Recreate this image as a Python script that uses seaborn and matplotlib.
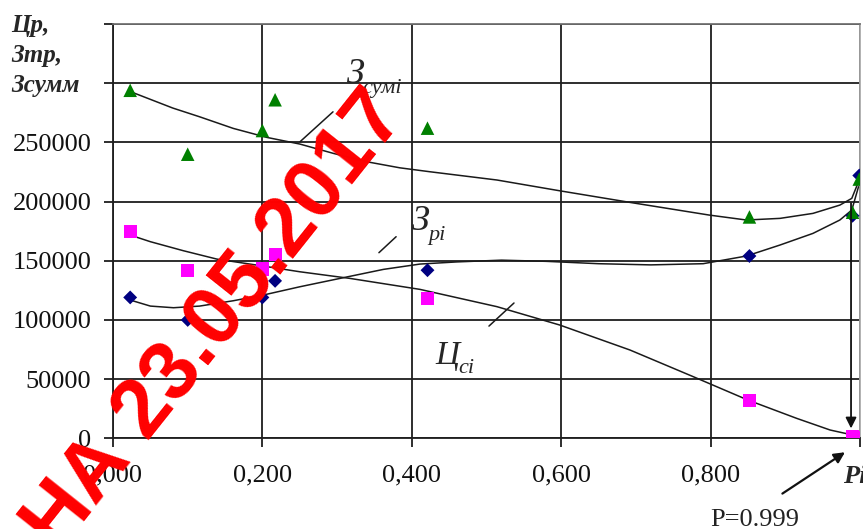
import numpy as np
import pandas as pd
import matplotlib
matplotlib.use("Agg")
import matplotlib.pyplot as plt
import seaborn as sns

# probability of no-failure P_i and the three cost series (points)
p_vals = [0.023, 0.100, 0.200, 0.217, 0.421, 0.852, 0.990, 0.999]
z_sum  = [294000, 240000, 260000, 286000, 262000, 187000, 191000, 219000]
z_r    = [119000, 100000, 119000, 133000, 142000, 154000, 188000, 222000]
c_s    = [175000, 142000, 143000, 155000, 118000, 32000, 1500, 500]

# trend curves
trend_p_sum = [0.024, 0.080, 0.116, 0.161, 0.206, 0.250, 0.295, 0.340, 0.384, 0.424, 0.514,
               0.598, 0.692, 0.798, 0.848, 0.893, 0.937, 0.973, 0.989, 0.998]
trend_sum   = [292700, 279000, 271600, 261800, 254200, 248600, 240700, 233600, 228500, 225200,
               218200, 209100, 199300, 188600, 184400, 185800, 190000, 197000, 202700, 216700]
trend_p_r = [0.023, 0.050, 0.081, 0.116, 0.161, 0.201, 0.250, 0.304, 0.362, 0.411, 0.460,
             0.520, 0.580, 0.650, 0.720, 0.790, 0.848, 0.893, 0.937, 0.973, 0.989, 0.998]
trend_r   = [116800, 111700, 110300, 111700, 116200, 121000, 128000, 135100, 142700, 147200,
             149000, 150500, 149500, 147500, 146500, 147500, 154000, 163300, 173100, 184400,
             192800, 212500]
trend_p_c = [0.023, 0.050, 0.094, 0.139, 0.201, 0.250, 0.317, 0.411, 0.514, 0.598, 0.692,
             0.777, 0.850, 0.915, 0.960, 1.000]
trend_c   = [171700, 166100, 158500, 151400, 145500, 140700, 135100, 125800, 111200, 95700,
             74600, 52000, 32300, 16900, 7000, 1400]

x_ticks = [0.0, 0.2, 0.4, 0.6, 0.8, 1.0]
x_ticklabels = ["0,000", "0,200", "0,400", "0,600", "0,800", ""]
y_ticks = [0, 50000, 100000, 150000, 200000, 250000, 300000, 350000]
y_ticklabels = ["0", "50000", "100000", "150000", "200000", "250000", "", ""]

df = pd.DataFrame({"P": p_vals, "z_sum": z_sum, "z_r": z_r, "c_s": c_s})

sns.set_theme(style="white")
plt.rcParams["font.family"] = ["Liberation Serif", "DejaVu Serif"]

W, H = 863, 529
fig = plt.figure(figsize=(W / 100, H / 100), dpi=100)
ax = fig.add_axes([113 / W, (H - 438.3) / H, (860 - 113) / W, (438.3 - 24) / H])

line_kws = dict(color="#1a1a1a", lw=1.1, zorder=3)
sns.lineplot(x=trend_p_sum, y=trend_sum, ax=ax, sort=False, estimator=None, **line_kws)
sns.lineplot(x=trend_p_r, y=trend_r, ax=ax, sort=False, estimator=None, **line_kws)
sns.lineplot(x=trend_p_c, y=trend_c, ax=ax, sort=False, estimator=None, **line_kws)

sns.scatterplot(data=df, x="P", y="z_r", marker="D", s=50, color="#000080", edgecolor="none", ax=ax, zorder=4)
sns.scatterplot(data=df, x="P", y="c_s", marker="s", s=90, color="#FF00FF", edgecolor="none", ax=ax, zorder=4)
sns.scatterplot(data=df, x="P", y="z_sum", marker="^", s=95, color="#008000", edgecolor="none", ax=ax, zorder=5)

ax.set_xlim(0, 1.0)
ax.set_ylim(0, 350000)
ax.set_xticks(x_ticks)
ax.set_xticklabels(x_ticklabels)
ax.set_yticks(y_ticks)
ax.set_yticklabels(y_ticklabels)
ax.set_xlabel("")
ax.set_ylabel("")
ax.grid(True, color="#1e1e1e", lw=1.3)
ax.set_axisbelow(True)
ax.tick_params(axis="both", which="major", direction="out", length=6.5, width=1.3,
               color="#1e1e1e", labelsize=19, labelcolor="#111111", left=True, bottom=True)
ax.tick_params(axis="y", pad=9)
ax.tick_params(axis="x", pad=12)
for side in ["left", "bottom"]:
    ax.spines[side].set_color("#1e1e1e")
    ax.spines[side].set_linewidth(1.3)
ax.spines["top"].set_color("#707070")
ax.spines["right"].set_color("#a8a8a8")

# axis titles
fig.text(11 / W, 1 - 14 / H, "Цр,\nЗтр,\nЗсумм", ha="left", va="top", fontsize=18,
         fontweight="bold", fontstyle="italic", linespacing=1.4)
fig.text(843 / W, 1 - 483 / H, "Pi", ha="left", va="baseline", fontsize=19,
         fontweight="bold", fontstyle="italic")

# curve labels with leader lines
def curve_label(x, y, main, sub, dx_sub, size=26):
    ax.text(x, y, main, fontsize=size, fontstyle="italic", ha="left", va="baseline", zorder=6)
    ax.annotate(sub, xy=(x, y), xytext=(dx_sub, -7), textcoords="offset points",
                fontsize=16, fontstyle="italic", ha="left", va="baseline", zorder=6)

curve_label(0.313, 300000, "З", "сумі", 11)
curve_label(0.400, 176000, "З", "pi", 12)
curve_label(0.431, 63000, "Ц", "ci", 17, size=24)

ax.plot([0.2503, 0.2945], [250500, 275800], color="#1a1a1a", lw=1.1, zorder=6)
ax.plot([0.356, 0.379], [156800, 170300], color="#1a1a1a", lw=1.1, zorder=6)
ax.plot([0.5033, 0.5368], [94800, 114300], color="#1a1a1a", lw=1.1, zorder=6)

# P = 0.999 markers
ax.annotate("", xy=(0.988, 6000), xytext=(0.988, 201000),
            arrowprops=dict(arrowstyle="-|>", color="#111111", lw=1.3, mutation_scale=16), zorder=6)
ax.annotate("", xy=(0.983, -10500), xytext=(0.893, -48000), annotation_clip=False,
            arrowprops=dict(arrowstyle="-|>", color="#111111", lw=1.6, mutation_scale=16))
fig.text(710 / W, 1 - 526 / H, "P=0.999", ha="left", va="baseline", fontsize=19, color="#222222")

# red date stamp over the chart
fig.text(233 / W, 1 - 335 / H, "НА 23.05.2017", ha="center", va="baseline", rotation=51.5,
         rotation_mode="anchor", fontsize=60, fontweight="bold", color="#FF0000",
         family=["Liberation Sans", "DejaVu Sans"], zorder=10)

fig.savefig("out.png", dpi=100)
